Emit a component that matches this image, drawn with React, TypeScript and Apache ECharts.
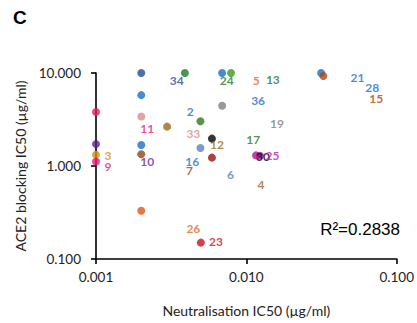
import React, { useEffect, useRef } from "react";
import * as echarts from "echarts";

// Points: neutralisation IC50 (x) vs ACE2 blocking IC50 (y)
const pointX = [0.001, 0.001, 0.001, 0.001, 0.002, 0.002, 0.002, 0.002, 0.002, 0.002, 0.0039, 0.00297, 0.00495, 0.00495, 0.00498, 0.0059, 0.0059, 0.0069, 0.0069, 0.0079, 0.0116, 0.0123, 0.0314, 0.0325];
const pointY = [3.8, 1.72, 1.32, 1.12, 10, 5.78, 3.4, 1.68, 1.34, 0.33, 10, 2.65, 3.03, 1.56, 0.15, 1.97, 1.23, 10, 4.44, 10, 1.3, 1.29, 10, 9.3];
const pointColor = ["#e6175c", "#5b1f8e", "#d4900a", "#e8187a", "#1f4e99", "#1a72c0", "#d4908a", "#1a6fc2", "#8b4a14", "#e0561a", "#1a7a2a", "#9a6a10", "#2a7a1a", "#5a80c8", "#c8101e", "#000000", "#9a1010", "#1a6ec0", "#808080", "#3a9a1a", "#b0109a", "#a0109a", "#1a6ec0", "#b04a14"];

// Free-floating point labels
const labelText = ["34", "24", "5", "13", "21", "28", "15", "36", "2", "19", "11", "33", "17", "12", "3", "30", "25", "16", "10", "9", "7", "6", "4", "26", "23"];
const labelX = [0.00344, 0.0074, 0.01161, 0.015, 0.0548, 0.0687, 0.073, 0.01197, 0.00424, 0.01596, 0.00219, 0.00444, 0.01111, 0.00637, 0.0012, 0.01291, 0.0149, 0.00437, 0.00219, 0.0012, 0.00418, 0.00785, 0.01253, 0.00444, 0.00627];
const labelY = [8.4, 8.4, 8.4, 8.61, 9.05, 7.06, 5.37, 5.1, 3.88, 2.88, 2.54, 2.24, 1.93, 1.71, 1.29, 1.27, 1.3, 1.13, 1.12, 0.99, 0.885, 0.809, 0.631, 0.211, 0.153];
const labelColor = ["#1f4e99", "#1a7a2a", "#e06a2a", "#1a7a2a", "#1a72c0", "#1a6fc0", "#b8400a", "#1a6fc0", "#1a72c0", "#808080", "#e8187a", "#d4908a", "#2a7a1a", "#9a6a10", "#d4900a", "#000000", "#c020b0", "#1a72c0", "#6a2a9a", "#e8187a", "#8b4a14", "#4a80c8", "#a0602a", "#e06a2a", "#c8101e"];

const xTickMin = 0.001;
const xTickMax = 0.1;
const yTickMin = 0.1;
const yTickMax = 10;
const r2Text = "R²=0.2838";
const panelLetter = "C";
const xName = "Neutralisation IC50 (µg/ml)";
const yName = "ACE2 blocking IC50 (µg/ml)";

const FONT = "Lato, 'Open Sans', sans-serif";

export default function App() {
  const ref = useRef<HTMLDivElement>(null);
  useEffect(() => {
    if (!ref.current) return;
    const chart = echarts.init(ref.current, null, { renderer: "svg" });
    const axisCommon = {
      type: "log" as const,
      logBase: 10,
      nameLocation: "middle" as const,
      nameTextStyle: { color: "#222", fontSize: 14, fontFamily: FONT },
      axisLine: { show: true, lineStyle: { color: "#000", width: 1.6 } },
      axisTick: { show: true, inside: false, length: 5, lineStyle: { color: "#000", width: 1.6 } },
      splitLine: { show: false },
      minorTick: { show: false },
      axisLabel: {
        color: "#222",
        fontSize: 13.5,
        fontFamily: FONT,
        formatter: (v: number) => v.toFixed(3),
      },
    };
    chart.setOption({
      animation: false,
      grid: { left: 96, right: 15, top: 73, bottom: 64, containLabel: false },
      xAxis: {
        ...axisCommon,
        min: xTickMin,
        max: xTickMax,
        name: xName,
        nameGap: 44,
        axisLabel: { ...axisCommon.axisLabel, margin: 11 },
      },
      yAxis: {
        ...axisCommon,
        min: yTickMin,
        max: yTickMax,
        name: yName,
        nameGap: 64,
        nameRotate: 90,
        axisLabel: { ...axisCommon.axisLabel, margin: 15 },
      },
      graphic: [
        {
          type: "text",
          left: 13,
          top: 8,
          style: { text: panelLetter, font: "bold 19px 'Liberation Sans', Arial, sans-serif", fill: "#000" },
        },
        {
          type: "text",
          right: 17,
          top: 221,
          style: { text: r2Text, font: "17px 'Liberation Sans', Arial, sans-serif", fill: "#000" },
        },
      ],
      series: [
        {
          type: "scatter",
          clip: false,
          symbolSize: 8,
          z: 3,
          data: pointX.map((x, i) => ({ value: [x, pointY[i]], itemStyle: { color: pointColor[i] } })),
        },
        {
          type: "scatter",
          clip: false,
          symbolSize: 0,
          z: 4,
          silent: true,
          data: labelX.map((x, i) => ({
            value: [x, labelY[i]],
            name: labelText[i],
            label: {
              show: true,
              position: "inside",
              formatter: labelText[i],
              color: labelColor[i],
              fontSize: 12,
              fontWeight: "bold",
              fontFamily: FONT,
            },
          })),
        },
      ],
    });
    return () => chart.dispose();
  }, []);
  return <div ref={ref} style={{ width: 417, height: 323, position: "absolute", left: 0, top: 0 }} />;
}
